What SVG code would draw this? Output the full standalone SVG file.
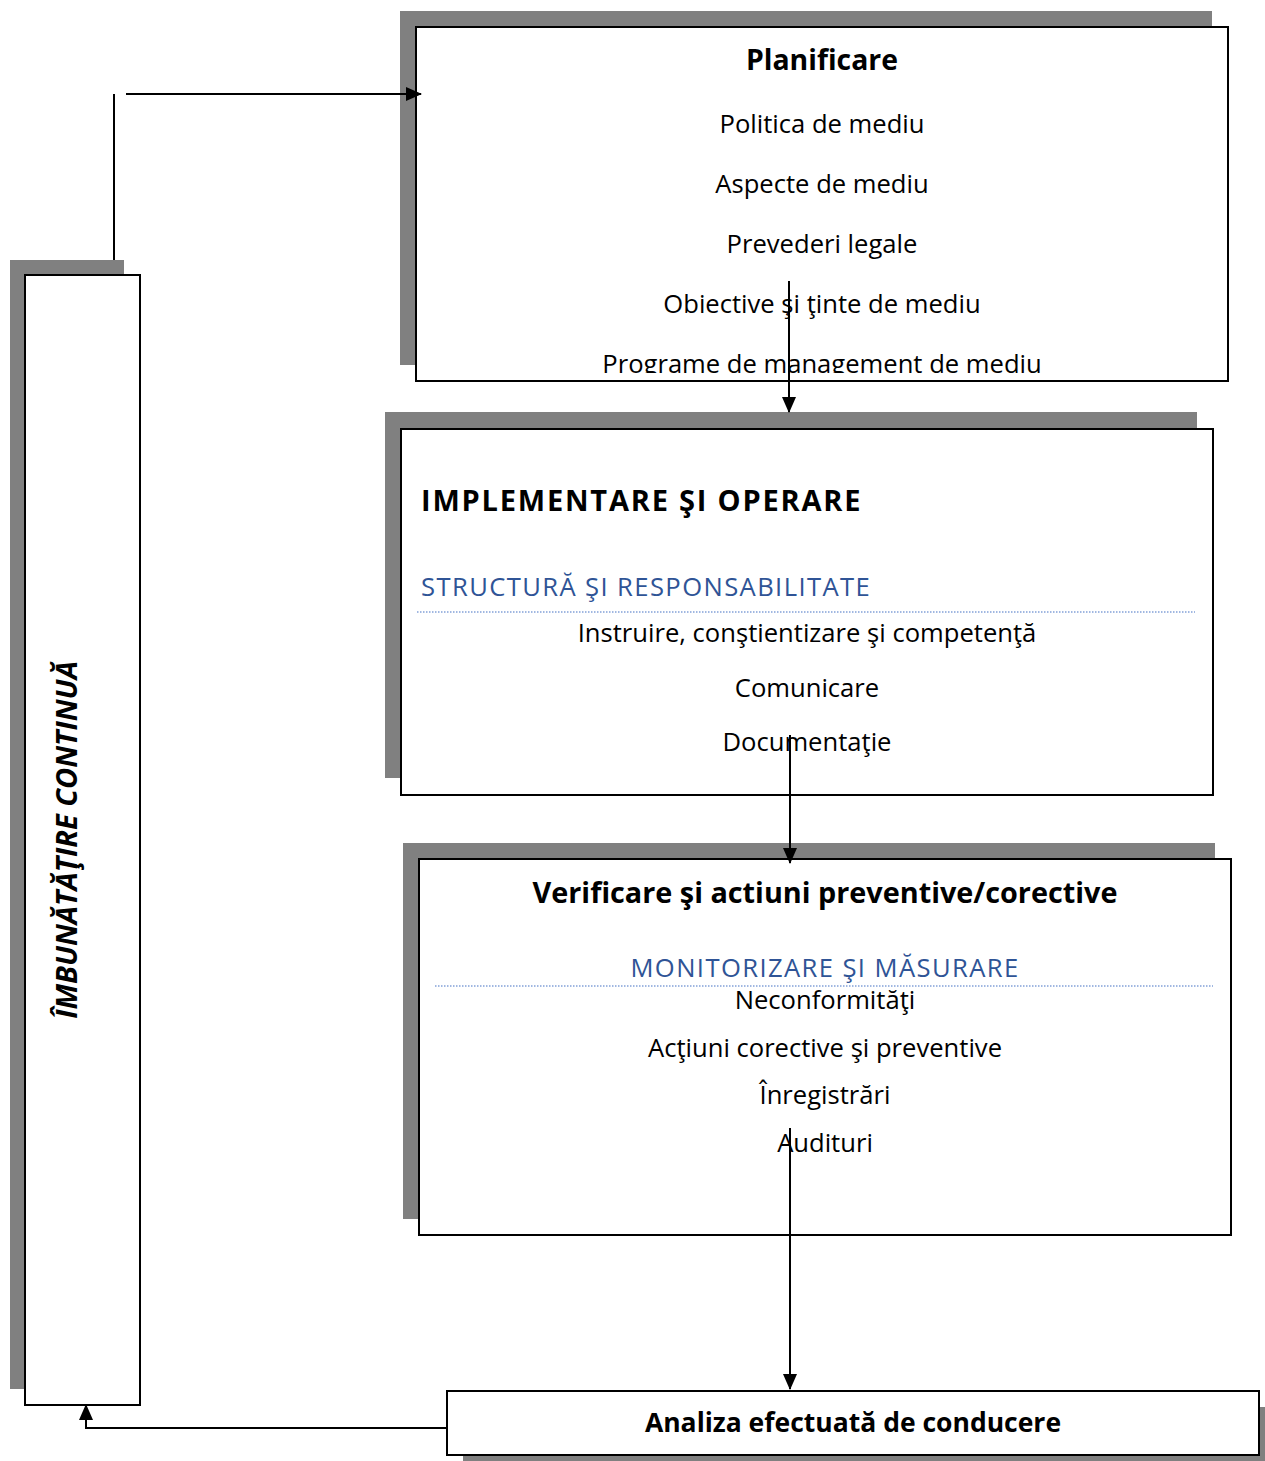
<svg xmlns="http://www.w3.org/2000/svg" width="1265" height="1461" viewBox="0 0 1265 1461">
<style>
.sh{fill:#808080}
.bx{fill:#fff;stroke:#000;stroke-width:2}
.t{font-family:"Open Sans","Liberation Sans",sans-serif;font-size:25.6px;fill:#000;text-anchor:middle}
.b{font-weight:bold}
.h{font-family:"Open Sans","Liberation Sans",sans-serif;font-size:25.6px;fill:#2F5496;letter-spacing:1.4px}
.dl{stroke:#4472C4;stroke-width:1.2;stroke-dasharray:1.5 1.5}
.c{stroke:#000;stroke-width:2;fill:none}
</style>
<defs>
<marker id="ah2" markerWidth="16" markerHeight="16" refX="15" refY="8" orient="auto" markerUnits="userSpaceOnUse" viewBox="0 0 16 16">
<path d="M0,1 L16,8 L0,15 z" fill="#000"/>
</marker>
<clipPath id="cp1"><rect x="417" y="28" width="810" height="345"/></clipPath>
</defs>

<g id="imbunatatire">
<rect class="sh" x="10" y="260" width="114" height="1129"/>
<rect class="bx" x="25" y="275" width="115" height="1130"/>
<text class="t b" style="font-size:29px;font-style:italic" transform="translate(77,840) rotate(-90)">ÎMBUNĂTĂŢIRE CONTINUĂ</text>
</g>

<g id="planificare">
<rect class="sh" x="400" y="11" width="812" height="354"/>
<rect class="bx" x="416" y="27" width="812" height="354"/>
<g clip-path="url(#cp1)">
<text class="t b" x="822" y="70" style="font-size:28.4px">Planificare</text>
<text class="t" x="822" y="133">Politica de mediu</text>
<text class="t" x="822" y="193">Aspecte de mediu</text>
<text class="t" x="822" y="253">Prevederi legale</text>
<text class="t" x="822" y="313">Obiective şi ţinte de mediu</text>
<text class="t" x="822" y="373">Programe de management de mediu</text>
</g>
</g>

<g id="implementare">
<rect class="sh" x="385" y="412" width="812" height="366"/>
<rect class="bx" x="401" y="429" width="812" height="366"/>
<text class="t b" x="421" y="511" style="text-anchor:start;font-size:29px;letter-spacing:1.8px">IMPLEMENTARE ŞI OPERARE</text>
<text class="h" x="421" y="596">STRUCTURĂ ŞI RESPONSABILITATE</text>
<line class="dl" x1="417" y1="612" x2="1195" y2="612"/>
<text class="t" x="807" y="642">Instruire, conştientizare şi competenţă</text>
<text class="t" x="807" y="697">Comunicare</text>
<text class="t" x="807" y="751">Documentaţie</text>
</g>

<g id="verificare">
<rect class="sh" x="403" y="843" width="812" height="376"/>
<rect class="bx" x="419" y="859" width="812" height="376"/>
<text class="t b" x="825" y="903" style="font-size:28.8px">Verificare şi actiuni preventive/corective</text>
<text class="h" x="825" y="977" style="text-anchor:middle">MONITORIZARE ŞI MĂSURARE</text>
<line class="dl" x1="435" y1="986" x2="1213" y2="986"/>
<text class="t" x="825" y="1009">Neconformităţi</text>
<text class="t" x="825" y="1057">Acţiuni corective şi preventive</text>
<text class="t" x="825" y="1104">Înregistrări</text>
<text class="t" x="825" y="1152">Audituri</text>
</g>

<g id="analiza">
<rect class="sh" x="463" y="1407" width="802" height="54"/>
<rect class="bx" x="447" y="1391" width="812" height="64"/>
<text class="t b" x="853" y="1432" style="font-size:26.5px">Analiza efectuată de conducere</text>
</g>

<g id="connectors">
<line class="c" x1="114" y1="94" x2="114" y2="260"/>
<line class="c" x1="126" y1="94" x2="421" y2="94" marker-end="url(#ah2)"/>
<line class="c" x1="789" y1="281" x2="789" y2="412" marker-end="url(#ah2)"/>
<line class="c" x1="790" y1="735" x2="790" y2="863" marker-end="url(#ah2)"/>
<line class="c" x1="790" y1="1128" x2="790" y2="1389" marker-end="url(#ah2)"/>
<polyline class="c" points="447,1428 86,1428 86,1405" marker-end="url(#ah2)"/>
</g>
</svg>
